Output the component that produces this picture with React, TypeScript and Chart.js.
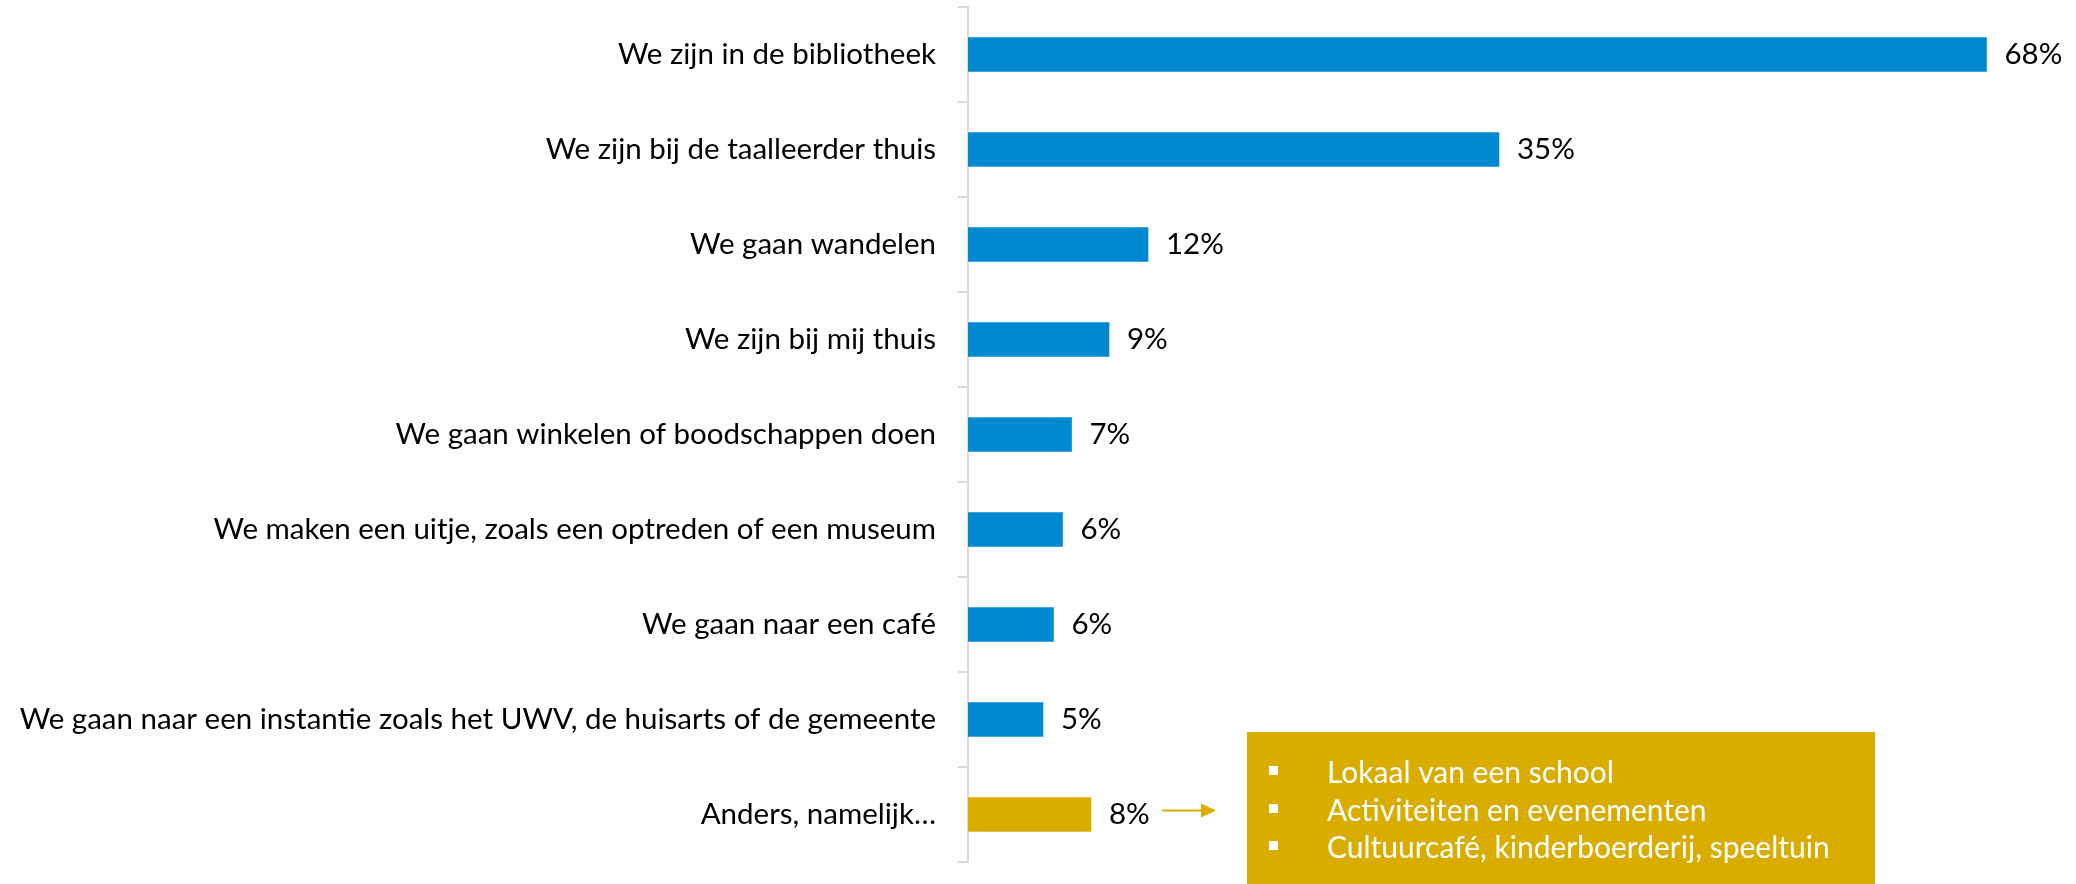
import React, { useEffect, useRef } from "react";
import { Chart, registerables } from "chart.js";

Chart.register(...registerables);

const categories = [
  "We zijn in de bibliotheek",
  "We zijn bij de taalleerder thuis",
  "We gaan wandelen",
  "We zijn bij mij thuis",
  "We gaan winkelen of boodschappen doen",
  "We maken een uitje, zoals een optreden of een museum",
  "We gaan naar een café",
  "We gaan naar een instantie zoals het UWV, de huisarts of de gemeente",
  "Anders, namelijk…",
];
const values = [67.9, 35.4, 12.0, 9.4, 6.9, 6.3, 5.7, 5.0, 8.2];
const valueLabels = ["68%", "35%", "12%", "9%", "7%", "6%", "6%", "5%", "8%"];
const calloutItems = [
  "Lokaal van een school",
  "Activiteiten en evenementen",
  "Cultuurcafé, kinderboerderij, speeltuin",
];

const BLUE = "#0089D1";
const GOLD = "#D9AD00";
const GRAY = "#D9D9D9";
const FONT = "Lato, 'Open Sans', sans-serif";
const FONT_SIZE = 29.5;

const valueLabelPlugin = {
  id: "valueLabels",
  afterDatasetsDraw(chart: any) {
    const ctx = chart.ctx;
    const meta = chart.getDatasetMeta(0);
    ctx.save();
    ctx.font = `${FONT_SIZE}px ${FONT}`;
    ctx.fillStyle = "#000";
    ctx.textAlign = "left";
    ctx.textBaseline = "middle";
    meta.data.forEach((bar: any, i: number) => {
      ctx.fillText(valueLabels[i], bar.x + 18, bar.y);
    });
    ctx.restore();
  },
};

const calloutPlugin = {
  id: "callout",
  afterDraw(chart: any) {
    const ctx = chart.ctx;
    const meta = chart.getDatasetMeta(0);
    const last = meta.data[meta.data.length - 1];
    ctx.save();
    // box
    const boxL = 1247, boxT = 732, boxR = 1875, boxB = 884;
    ctx.fillStyle = GOLD;
    ctx.fillRect(boxL, boxT, boxR - boxL, boxB - boxT);
    // arrow
    ctx.font = `${FONT_SIZE}px ${FONT}`;
    const lblW = ctx.measureText(valueLabels[valueLabels.length - 1]).width;
    const ax0 = last.x + 18 + lblW + 12;
    const ax1 = boxL - 31;
    const ay = last.y - 4;
    ctx.strokeStyle = GOLD;
    ctx.lineWidth = 2;
    ctx.beginPath();
    ctx.moveTo(ax0, ay);
    ctx.lineTo(ax1 - 12, ay);
    ctx.stroke();
    ctx.fillStyle = GOLD;
    ctx.beginPath();
    ctx.moveTo(ax1, ay);
    ctx.lineTo(ax1 - 15, ay - 7);
    ctx.lineTo(ax1 - 15, ay + 7);
    ctx.closePath();
    ctx.fill();
    // items
    ctx.fillStyle = "#fff";
    ctx.font = `30px ${FONT}`;
    ctx.textAlign = "left";
    ctx.textBaseline = "alphabetic";
    const baselines = [783, 821, 858];
    calloutItems.forEach((t, i) => {
      const b = baselines[i];
      ctx.fillRect(boxL + 22, b - 17, 9, 9);
      ctx.fillText(t, boxL + 80, b);
    });
    ctx.restore();
  },
};

export default function App() {
  const ref = useRef<HTMLCanvasElement | null>(null);
  useEffect(() => {
    document.body.style.margin = "0";
    const chart = new Chart(ref.current!, {
      type: "bar",
      data: {
        labels: categories,
        datasets: [
          {
            data: values,
            backgroundColor: values.map((_, i) => (i === values.length - 1 ? GOLD : BLUE)),
            barThickness: 34,
          },
        ],
      },
      options: {
        indexAxis: "y",
        animation: false,
        responsive: false,
        layout: { padding: { top: 7, bottom: 22, left: 0, right: 0 } },
        plugins: { legend: { display: false }, tooltip: { enabled: false } },
        scales: {
          x: { display: false, min: 0, max: 73.87 },
          y: {
            afterFit(scale: any) {
              scale.width = 968;
              scale.paddingTop = 0;
              scale.paddingBottom = 0;
            },
            grid: {
              offset: true,
              drawOnChartArea: false,
              drawTicks: true,
              tickLength: 10,
              color: GRAY,
              lineWidth: 2,
            },
            border: { color: GRAY, width: 2 },
            ticks: {
              padding: 22,
              color: "#000",
              font: { family: FONT, size: FONT_SIZE },
            },
          },
        },
      },
      plugins: [valueLabelPlugin, calloutPlugin],
    });
    return () => chart.destroy();
  }, []);
  return (
    <div style={{ width: 2076, height: 884 }}>
      <canvas ref={ref} width={2076} height={884} style={{ display: "block" }} />
    </div>
  );
}
